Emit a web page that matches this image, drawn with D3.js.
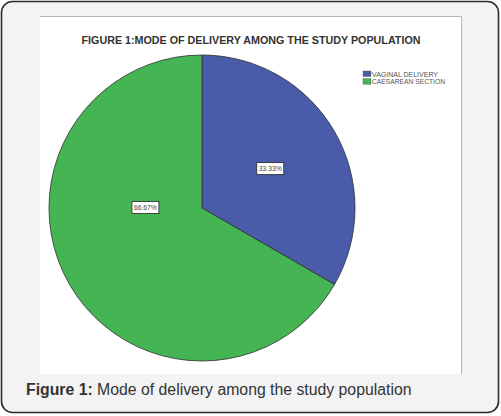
<!DOCTYPE html>
<html>
<head>
<meta charset="utf-8">
<script src="https://cdn.jsdelivr.net/npm/d3@7"></script>
<style>
  html, body { margin: 0; padding: 0; background: #ffffff; }
  svg { display: block; }
</style>
</head>
<body>
<svg id="chart" width="501" height="416"></svg>
<script>
// Mode of delivery pie
var categories = ["VAGINAL DELIVERY", "CAESAREAN SECTION"];
var percents = [33.33, 66.67];
var sliceColors = ["#4a5ca9", "#45b554"];
var chartTitle = "FIGURE 1:MODE OF DELIVERY AMONG THE STUDY POPULATION";

(function(d3) {

    var svg = d3.select("#chart");

    // outer card
    svg.append("rect")
        .attr("x", 1.5).attr("y", 1.5)
        .attr("width", 497).attr("height", 411)
        .attr("rx", 11).attr("ry", 11)
        .style("fill", "#f2f3f2")
        .style("stroke", "#2b2b2b")
        .style("stroke-width", 1.6);

    // white chart panel
    var panel = { x: 40, y: 16, w: 421, h: 358 };
    svg.append("rect")
        .attr("x", panel.x).attr("y", panel.y)
        .attr("width", panel.w).attr("height", panel.h)
        .style("fill", "#ffffff");
    svg.append("path")
        .attr("d", "M" + panel.x + "," + (panel.y + 0.5) + "H" + (panel.x + panel.w + 0.5) + "V" + (panel.y + panel.h))
        .style("fill", "none")
        .style("stroke", "#b5b5b5")
        .style("stroke-width", 1);

    svg.append("text")
        .attr("x", 251).attr("y", 43.5)
        .attr("text-anchor", "middle")
        .attr("font-family", "Liberation Sans, Arial, sans-serif")
        .attr("font-size", 10)
        .attr("font-weight", "bold")
        .attr("textLength", 339)
        .attr("lengthAdjust", "spacingAndGlyphs")
        .style("fill", "#333333")
        .text(chartTitle);

    // pie
    var cx = 202, cy = 208, radius = 153;
    var pie = d3.pie().sort(null).value(function(d) { return d; });
    var arcs = pie(percents);
    var arc = d3.arc().innerRadius(0).outerRadius(radius);
    var color = d3.scaleOrdinal().domain(categories).range(sliceColors);

    var g = svg.append("g").attr("transform", "translate(" + cx + "," + cy + ")");

    g.selectAll("path.slice")
        .data(arcs)
        .enter()
        .append("path")
        .attr("class", "slice")
        .attr("d", arc)
        .style("fill", function(d, i) { return color(categories[i]); })
        .style("stroke", "#2e2e2e")
        .style("stroke-width", 0.8)
        .style("stroke-linejoin", "round");

    // label placement: first at the centroid, the big one pulled toward the left middle
    var labelPos = function(d, i) {
        if (i === 0) {
            var a = d3.arc().innerRadius(0).outerRadius(radius * 1.03);
            return a.centroid(d);
        }
        var mid = (d.startAngle + d.endAngle) / 2 + Math.PI / 6 + 0.01;
        var r = radius * 0.37;
        return [Math.sin(mid) * r, -Math.cos(mid) * r];
    };

    var labels = g.selectAll("g.lbl")
        .data(arcs)
        .enter()
        .append("g")
        .attr("class", "lbl")
        .attr("transform", function(d, i) {
            var p = labelPos(d, i);
            return "translate(" + p[0] + "," + p[1] + ")";
        });

    labels.append("rect")
        .attr("x", -13.5).attr("y", -6)
        .attr("width", 27).attr("height", 12)
        .style("fill", "#ffffff")
        .style("stroke", "#333333")
        .style("stroke-width", 0.9);

    labels.append("text")
        .attr("x", 0).attr("y", 2.6)
        .attr("text-anchor", "middle")
        .attr("font-family", "Liberation Sans, Arial, sans-serif")
        .attr("font-size", 7)
        .attr("textLength", 23)
        .attr("lengthAdjust", "spacingAndGlyphs")
        .style("fill", "#444444")
        .text(function(d) { return d.data.toFixed(2) + "%"; });

    // legend
    var legendLengths = [66, 73];
    var legend = svg.append("g").attr("transform", "translate(363,71)");
    var rows = legend.selectAll("g")
        .data(categories)
        .enter()
        .append("g")
        .attr("transform", function(d, i) { return "translate(0," + (i * 7.6) + ")"; });

    rows.append("rect")
        .attr("width", 8).attr("height", 5.6)
        .style("fill", function(d) { return color(d); })
        .style("stroke", "#555555")
        .style("stroke-width", 0.4);

    rows.append("text")
        .attr("x", 9).attr("y", 5.6)
        .attr("font-family", "Liberation Sans Narrow, Liberation Sans, Arial, sans-serif")
        .attr("font-size", 7.4)
        .attr("textLength", function(d, i) { return legendLengths[i]; })
        .attr("lengthAdjust", "spacingAndGlyphs")
        .style("fill", "#555555")
        .text(function(d) { return d; });

    // caption
    var caption = svg.append("text")
        .attr("x", 26).attr("y", 395)
        .attr("font-family", "Liberation Sans, Arial, sans-serif")
        .attr("font-size", 15.8)
        .style("fill", "#333333");
    caption.append("tspan").attr("font-weight", "bold").text("Figure 1:");
    caption.append("tspan").text(" Mode of delivery among the study population");

})(d3);
</script>
</body>
</html>
